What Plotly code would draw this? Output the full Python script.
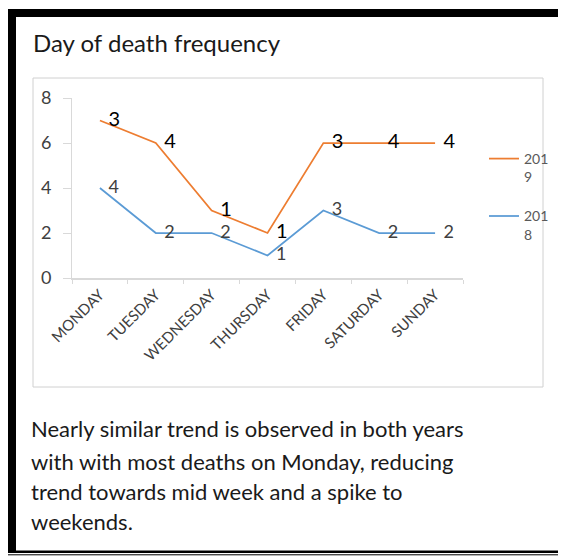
import plotly.graph_objects as go

OFF = 8  # page body margin offset
W, H = 566 - OFF, 556 - OFF

days = ["MONDAY", "TUESDAY", "WEDNESDAY", "THURSDAY", "FRIDAY", "SATURDAY", "SUNDAY"]
values_2019 = [7, 6, 3, 2, 6, 6, 6]
labels_2019 = ["3", "4", "1", "1", "3", "4", "4"]
values_2018 = [4, 2, 2, 1, 3, 2, 2]
labels_2018 = ["4", "2", "2", "1", "3", "2", "2"]
y_ticks = [0, 2, 4, 6, 8]

title_text = "Day of death frequency"
note_lines = [
    "Nearly similar trend is observed in both years",
    "with with most deaths on Monday, reducing",
    "trend towards mid week and a spike to",
    "weekends.",
]

FONT = "Lato, 'Open Sans', sans-serif"
ORANGE = "#ED7D31"
BLUE = "#5B9BD5"


def px(x):
    return (x - OFF) / W


def py(y):
    return 1 - (y - OFF) / H


fig = go.Figure()
# lines (with legend)
fig.add_trace(go.Scatter(
    x=days, y=values_2019, name="201<br>9", mode="lines",
    line=dict(color=ORANGE, width=1.75), legendgroup="a",
))
fig.add_trace(go.Scatter(
    x=days, y=values_2018, name="201<br>8", mode="lines",
    line=dict(color=BLUE, width=1.75), legendgroup="b",
))
# data labels
fig.add_trace(go.Scatter(
    x=days, y=values_2019, mode="markers+text", showlegend=False, hoverinfo="skip",
    text=labels_2019, textposition="middle right",
    textfont=dict(family=FONT, size=20, color="#000000"),
    marker=dict(size=12, opacity=0, color=ORANGE),
    cliponaxis=False,
))
fig.add_trace(go.Scatter(
    x=days, y=values_2018, mode="markers+text", showlegend=False, hoverinfo="skip",
    text=labels_2018, textposition="middle right",
    textfont=dict(family=FONT, size=18, color="#404040"),
    marker=dict(size=12, opacity=0, color=BLUE),
    cliponaxis=False,
))

shapes = [
    # chart area box
    dict(type="rect", xref="paper", yref="paper", x0=px(33), x1=px(543), y0=py(387), y1=py(78),
         line=dict(color="#d0d0d0", width=1), fillcolor="rgba(0,0,0,0)", layer="below"),
    # thick top bar
    dict(type="rect", xref="paper", yref="paper", x0=px(8), x1=px(565), y0=py(17), y1=py(9),
         line=dict(width=0), fillcolor="black"),
    # thick left bar
    dict(type="rect", xref="paper", yref="paper", x0=px(8), x1=px(16), y0=py(551), y1=py(9),
         line=dict(width=0), fillcolor="black"),
    # right thin line
    dict(type="line", xref="paper", yref="paper", x0=px(564.5), x1=px(564.5), y0=py(551), y1=py(9),
         line=dict(color="#404040", width=1)),
    # bottom thick line
    dict(type="rect", xref="paper", yref="paper", x0=px(7), x1=px(566), y0=py(553), y1=py(550.5),
         line=dict(width=0), fillcolor="black"),
    # bottom thin line
    dict(type="line", xref="paper", yref="paper", x0=px(7), x1=px(566), y0=py(554.8), y1=py(554.8),
         line=dict(color="black", width=1)),
]

annotations = [
    dict(text=title_text, xref="paper", yref="paper", x=px(31), y=py(43), xanchor="left", yanchor="middle",
         showarrow=False, font=dict(family=FONT, size=24, color="#1a1a1a")),
]
note_y = [428, 461, 491, 521]
for line_text, yy in zip(note_lines, note_y):
    annotations.append(dict(text=line_text, xref="paper", yref="paper", x=px(29), y=py(yy),
                            xanchor="left", yanchor="middle", showarrow=False,
                            font=dict(family=FONT, size=22, color="#1a1a1a")))

fig.update_layout(
    width=W, height=H,
    margin=dict(l=0, r=0, t=0, b=0, pad=0, autoexpand=False),
    paper_bgcolor="white", plot_bgcolor="white",
    shapes=shapes, annotations=annotations,
    font=dict(family=FONT, color="#595959"),
    xaxis=dict(domain=[px(72), px(463)], range=[-0.5, 6.5], type="category",
               showline=True, linecolor="#d9d9d9", linewidth=2, showgrid=False, zeroline=False,
               ticks="outside", ticklen=4, tickcolor="#d9d9d9", tickson="boundaries",
               tickangle=-45, tickfont=dict(family=FONT, size=15, color="#404040"),
               automargin=False),
    yaxis=dict(domain=[py(278), py(98)], range=[0, 8], tickvals=y_ticks,
               showline=True, linecolor="#d9d9d9", linewidth=1, showgrid=False, zeroline=False,
               ticks="outside", ticklen=8, tickcolor="#d9d9d9", ticklabelstandoff=8,
               tickfont=dict(family=FONT, size=18, color="#404040"),
               automargin=False),
    showlegend=True,
    legend=dict(x=px(484), y=py(143), xanchor="left", yanchor="top",
                traceorder="grouped", tracegroupgap=18, valign="top",
                font=dict(family=FONT, size=14, color="#595959"),
                bgcolor="rgba(0,0,0,0)", itemwidth=30),
)

fig.write_html("out.html")
